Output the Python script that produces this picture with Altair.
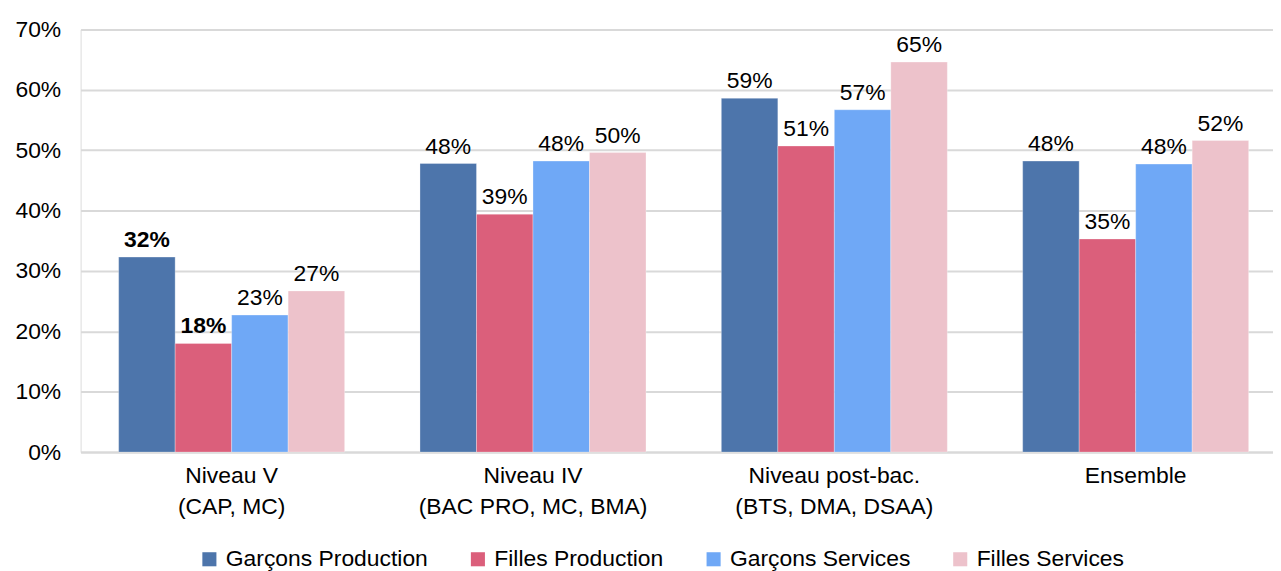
import altair as alt
import pandas as pd

categories = ["Niveau V|(CAP, MC)", "Niveau IV|(BAC PRO, MC, BMA)",
              "Niveau post-bac.|(BTS, DMA, DSAA)", "Ensemble"]
series = ["Garçons Production", "Filles Production", "Garçons Services", "Filles Services"]
colors = ["#4D75AB", "#DB5F7B", "#6FA8F6", "#EDC2CB"]

garcons_production = [0.323, 0.478, 0.586, 0.482]
filles_production = [0.180, 0.394, 0.507, 0.353]
garcons_services = [0.227, 0.482, 0.567, 0.477]
filles_services = [0.267, 0.496, 0.646, 0.516]
bold_labels = [[True, True, False, False], [False] * 4, [False] * 4, [False] * 4]

all_values = [garcons_production, filles_production, garcons_services, filles_services]
rows = []
for ci, cat in enumerate(categories):
    for si, s in enumerate(series):
        rows.append({"cat": cat, "serie": s, "value": all_values[si][ci],
                     "bold": bold_labels[ci][si]})
df = pd.DataFrame(rows)

FONT = "Liberation Sans"
FS = 23

x_enc = alt.X("cat:N", sort=categories, title=None,
              scale=alt.Scale(paddingInner=0.25, paddingOuter=0.1035, align=0.61),
              axis=alt.Axis(labelAngle=0, labelFontSize=FS, labelFont=FONT, labelColor="#000000",
                            labelPadding=13, labelLineHeight=31, ticks=False, labelLimit=500,
                            domainColor="#D9D9D9", domainWidth=2,
                            labelExpr="split(datum.label, '|')"))
xo_enc = alt.XOffset("serie:N", sort=series)
y_enc = alt.Y("value:Q", title=None,
              scale=alt.Scale(domain=[0, 0.7], nice=False),
              axis=alt.Axis(values=[0, 0.1, 0.2, 0.3, 0.4, 0.5, 0.6, 0.7], format=".0%",
                            labelFontSize=FS, labelFont=FONT, labelColor="#000000",
                            labelPadding=20, ticks=False, domain=False,
                            gridColor="#D9D9D9", gridWidth=2))

base = alt.Chart(df)

bars = base.mark_bar(stroke="#ffffff", strokeWidth=0.5, strokeOpacity=0.6).encode(
    x=x_enc, xOffset=xo_enc, y=y_enc,
    color=alt.Color("serie:N", sort=series,
                    scale=alt.Scale(domain=series, range=colors),
                    legend=alt.Legend(title=None, orient="none", direction="horizontal",
                                      legendX=118, legendY=521,
                                      symbolType="square", symbolSize=200, symbolStrokeWidth=0,
                                      labelFontSize=FS, labelFont=FONT, labelColor="#000000",
                                      labelOffset=5, columnPadding=38, labelLimit=400))
)

labels_normal = base.transform_filter("!datum.bold").mark_text(
    baseline="bottom", dy=-5, fontSize=FS, font=FONT, color="#000000"
).encode(x=alt.X("cat:N", sort=categories), xOffset=xo_enc, y="value:Q",
         text=alt.Text("value:Q", format=".0%"))

labels_bold = base.transform_filter("datum.bold").mark_text(
    baseline="bottom", dy=-5, fontSize=FS, font=FONT, color="#000000", fontWeight="bold"
).encode(x=alt.X("cat:N", sort=categories), xOffset=xo_enc, y="value:Q",
         text=alt.Text("value:Q", format=".0%"))

chart = alt.layer(bars, labels_normal, labels_bold).properties(
    width=1199, height=425,
    padding={"left": 6, "top": 9, "right": 0, "bottom": 0}
).configure_view(strokeWidth=0).configure(background="#ffffff")

chart.save("out.html", embed_options={"renderer": "svg", "actions": False})
